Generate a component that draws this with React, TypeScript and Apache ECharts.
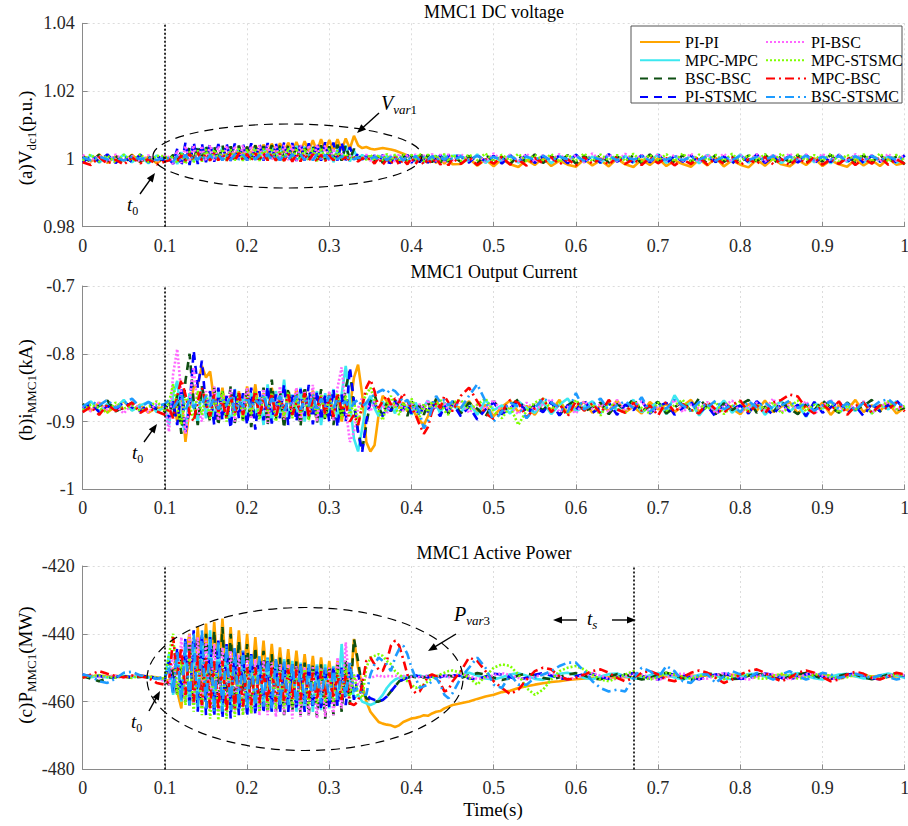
import React, { useEffect, useRef } from "react";
import * as echarts from "echarts";

// ---------------- time axis (s) ----------------
const time = [
  0, 0.01, 0.02, 0.03, 0.04, 0.05, 0.06, 0.07, 0.08, 0.09, 0.1,
  0.105, 0.11, 0.115, 0.12, 0.125, 0.13, 0.135, 0.14, 0.145, 0.15,
  0.155, 0.16, 0.165, 0.17, 0.175, 0.18, 0.185, 0.19, 0.195, 0.2,
  0.205, 0.21, 0.215, 0.22, 0.225, 0.23, 0.235, 0.24, 0.245, 0.25,
  0.255, 0.26, 0.265, 0.27, 0.275, 0.28, 0.285, 0.29, 0.295, 0.3,
  0.305, 0.31, 0.315, 0.32, 0.325, 0.33, 0.335, 0.34, 0.345, 0.35,
  0.355, 0.36, 0.365, 0.37, 0.375, 0.38, 0.385, 0.39, 0.395, 0.4,
  0.405, 0.41, 0.415, 0.42, 0.425, 0.43, 0.435, 0.44, 0.445, 0.45,
  0.46, 0.47, 0.48, 0.49, 0.5, 0.51, 0.52, 0.53, 0.54, 0.55,
  0.56, 0.57, 0.58, 0.59, 0.6, 0.61, 0.62, 0.63, 0.64, 0.65,
  0.66, 0.67, 0.68, 0.69, 0.7, 0.71, 0.72, 0.73, 0.74, 0.75,
  0.76, 0.77, 0.78, 0.79, 0.8, 0.81, 0.82, 0.83, 0.84, 0.85,
  0.86, 0.87, 0.88, 0.89, 0.9, 0.91, 0.92, 0.93, 0.94, 0.95,
  0.96, 0.97, 0.98, 0.99, 1.0,
];

const seriesNames = ["PI-PI", "MPC-MPC", "BSC-BSC", "PI-STSMC", "PI-BSC", "MPC-STSMC", "MPC-BSC", "BSC-STSMC"];
const legendCol1 = ["PI-PI", "MPC-MPC", "BSC-BSC", "PI-STSMC"];
const legendCol2 = ["PI-BSC", "MPC-STSMC", "MPC-BSC", "BSC-STSMC"];
const xTicks = [0, 0.1, 0.2, 0.3, 0.4, 0.5, 0.6, 0.7, 0.8, 0.9, 1];

// ---------------- (a) MMC1 DC voltage (p.u.) ----------------
const vdcPIPI = [
  1.0010, 0.9992, 1.0013, 0.9988, 1.0008, 0.9994, 1.0012, 0.9990, 1.0006, 0.9987, 1.0004,
  1.0000, 1.0008, 0.9996, 1.0015, 0.9992, 1.0018, 0.9995, 1.0022, 1.0000, 1.0025,
  1.0003, 1.0028, 1.0005, 1.0030, 1.0008, 1.0032, 1.0010, 1.0034, 1.0012, 1.0035,
  1.0013, 1.0040, 1.0015, 1.0042, 1.0016, 1.0045, 1.0018, 1.0046, 1.0018, 1.0048,
  1.0020, 1.0050, 1.0020, 1.0052, 1.0022, 1.0055, 1.0022, 1.0058, 1.0024, 1.0056,
  1.0024, 1.0058, 1.0026, 1.0060, 1.0030, 1.0068, 1.0040, 1.0032, 1.0035, 1.0030,
  1.0028, 1.0030, 1.0032, 1.0030, 1.0028, 1.0025, 1.0020, 1.0015, 1.0010, 1.0006,
  1.0002, 0.9994, 1.0004, 0.9990, 1.0002, 0.9988, 1.0001, 0.9986, 0.9999, 0.9984,
  0.9985, 1.0002, 0.9980, 0.9998, 0.9978, 1.0000, 0.9984, 0.9976, 0.9997, 0.9982,
  1.0003, 0.9979, 0.9995, 0.9983, 0.9977, 0.9999, 0.9981, 0.9996, 0.9978, 1.0001,
  0.9984, 0.9976, 0.9998, 0.9982, 1.0002, 0.9979, 0.9995, 0.9985, 0.9977, 0.9999,
  0.9981, 1.0003, 0.9978, 0.9996, 0.9983, 0.9975, 0.9998, 0.9980, 1.0001, 0.9984,
  0.9978, 0.9997, 0.9982, 1.0002, 0.9979, 0.9996, 0.9984, 0.9977, 0.9999, 0.9981,
  0.9996, 0.9979, 1.0001, 0.9983, 0.9988,
];
const vdcMPCMPC = [
  0.9992, 1.0011, 0.9989, 1.0009, 0.9993, 1.0013, 0.9990, 1.0008, 0.9987, 1.0010, 0.9995,
  0.9995, 1.0010, 0.9985, 1.0020, 0.9990, 1.0030, 0.9992, 1.0032, 0.9995, 1.0035,
  0.9996, 1.0030, 0.9998, 1.0034, 0.9997, 1.0030, 0.9999, 1.0033, 0.9998, 1.0031,
  1.0000, 1.0034, 0.9999, 1.0036, 1.0000, 1.0035, 0.9999, 1.0037, 1.0001, 1.0036,
  1.0000, 1.0038, 1.0001, 1.0036, 0.9999, 1.0035, 1.0000, 1.0034, 0.9998, 1.0036,
  0.9990, 1.0030, 0.9995, 1.0040, 0.9992, 1.0025, 0.9998, 1.0012, 1.0000, 1.0008,
  0.9995, 1.0010, 0.9993, 1.0009, 0.9992, 1.0011, 0.9991, 1.0009, 0.9990, 1.0012,
  0.9991, 1.0008, 0.9989, 1.0011, 0.9992, 1.0010, 0.9988, 1.0012, 0.9990, 1.0009,
  1.0010, 0.9990, 1.0013, 0.9988, 1.0008, 0.9992, 1.0012, 0.9989, 1.0006, 0.9991,
  1.0011, 0.9987, 1.0009, 0.9993, 1.0013, 0.9990, 1.0007, 0.9988, 1.0012, 0.9992,
  1.0009, 0.9989, 1.0011, 0.9991, 1.0014, 0.9988, 1.0008, 0.9993, 1.0010, 0.9987,
  1.0012, 0.9990, 1.0007, 0.9992, 1.0013, 0.9989, 1.0009, 0.9991, 1.0011, 0.9988,
  1.0008, 0.9993, 1.0012, 0.9990, 1.0010, 0.9987, 1.0013, 0.9991, 1.0009, 0.9989,
  1.0011, 0.9992, 1.0008, 0.9988, 1.0010,
];
const vdcBSCBSC = [
  1.0008, 0.9990, 1.0012, 0.9993, 1.0009, 0.9988, 1.0011, 0.9992, 1.0007, 0.9989, 1.0006,
  0.9998, 1.0012, 0.9990, 1.0025, 0.9993, 1.0035, 0.9995, 1.0040, 0.9996, 1.0038,
  0.9997, 1.0036, 0.9998, 1.0040, 0.9996, 1.0037, 0.9998, 1.0039, 0.9997, 1.0036,
  0.9999, 1.0040, 0.9997, 1.0038, 0.9998, 1.0041, 0.9997, 1.0039, 0.9999, 1.0040,
  0.9998, 1.0038, 0.9997, 1.0041, 0.9998, 1.0039, 0.9996, 1.0040, 0.9998, 1.0037,
  0.9997, 1.0042, 0.9995, 1.0040, 0.9998, 1.0030, 0.9999, 1.0015, 1.0000, 1.0008,
  0.9992, 1.0009, 0.9988, 1.0011, 0.9991, 1.0008, 0.9989, 1.0012, 0.9990, 1.0007,
  0.9993, 1.0010, 0.9987, 1.0012, 0.9990, 1.0008, 0.9989, 1.0011, 0.9992, 1.0009,
  0.9991, 1.0009, 0.9987, 1.0012, 0.9993, 1.0006, 0.9985, 1.0010, 0.9990, 1.0013,
  0.9988, 1.0008, 0.9992, 1.0011, 0.9986, 1.0009, 0.9991, 1.0012, 0.9989, 1.0007,
  0.9993, 1.0010, 0.9987, 1.0013, 0.9990, 1.0008, 0.9988, 1.0011, 0.9992, 1.0009,
  0.9986, 1.0012, 0.9991, 1.0007, 0.9989, 1.0010, 0.9993, 1.0013, 0.9987, 1.0008,
  0.9990, 1.0011, 0.9988, 1.0009, 0.9992, 1.0012, 0.9986, 1.0007, 0.9991, 1.0010,
  0.9989, 1.0013, 0.9987, 1.0008, 0.9984,
];
const vdcPISTSMC = [
  0.9989, 1.0010, 0.9992, 1.0013, 0.9988, 1.0008, 0.9991, 1.0012, 0.9990, 1.0009, 0.9993,
  1.0000, 0.9985, 1.0030, 0.9978, 1.0048, 0.9982, 1.0050, 0.9985, 1.0045, 0.9990,
  1.0046, 0.9992, 1.0044, 0.9993, 1.0046, 0.9994, 1.0045, 0.9995, 1.0044, 0.9995,
  1.0046, 0.9996, 1.0045, 0.9995, 1.0047, 0.9996, 1.0046, 0.9995, 1.0048, 0.9996,
  1.0047, 0.9994, 1.0048, 0.9995, 1.0046, 0.9996, 1.0047, 0.9995, 1.0049, 0.9994,
  1.0048, 0.9995, 1.0050, 0.9996, 1.0035, 1.0000, 1.0015, 0.9998, 1.0008, 1.0001,
  1.0010, 0.9990, 1.0012, 0.9991, 0.9988, 1.0011, 0.9990, 0.9989, 1.0012, 0.9988,
  1.0009, 0.9990, 1.0011, 0.9988, 1.0010, 0.9989, 1.0012, 0.9988, 1.0009, 1.0011,
  1.0007, 0.9989, 1.0012, 0.9992, 1.0009, 0.9986, 1.0011, 0.9990, 1.0013, 0.9988,
  1.0008, 0.9993, 1.0010, 0.9987, 1.0012, 0.9991, 1.0009, 0.9989, 1.0014, 0.9992,
  1.0007, 0.9988, 1.0011, 0.9990, 1.0013, 0.9987, 1.0009, 0.9992, 1.0010, 0.9989,
  1.0012, 0.9991, 1.0008, 0.9986, 1.0011, 0.9990, 1.0013, 0.9988, 1.0009, 0.9992,
  1.0010, 0.9989, 1.0012, 0.9987, 1.0008, 0.9991, 1.0011, 0.9990, 1.0013, 0.9988,
  1.0009, 0.9992, 1.0010, 0.9989, 1.0011,
];
const vdcPIBSC = [
  1.0012, 0.9994, 1.0009, 0.9991, 1.0013, 0.9995, 1.0008, 0.9992, 1.0011, 0.9993, 1.0010,
  1.0005, 0.9985, 1.0025, 0.9988, 1.0038, 0.9992, 1.0040, 0.9994, 1.0038, 0.9995,
  1.0040, 0.9996, 1.0037, 0.9995, 1.0039, 0.9997, 1.0038, 0.9996, 1.0040, 0.9997,
  1.0038, 0.9996, 1.0041, 0.9997, 1.0039, 0.9996, 1.0040, 0.9997, 1.0041, 0.9996,
  1.0039, 0.9995, 1.0041, 0.9996, 1.0040, 0.9997, 1.0042, 0.9996, 1.0040, 0.9995,
  1.0030, 0.9998, 1.0015, 0.9999, 1.0008, 1.0001, 1.0004, 0.9999, 1.0013, 0.9994,
  1.0012, 0.9993, 1.0014, 0.9995, 1.0011, 0.9992, 1.0015, 0.9994, 1.0012, 0.9993,
  1.0014, 0.9995, 1.0011, 0.9992, 1.0015, 0.9994, 1.0013, 0.9992, 1.0014, 0.9995,
  1.0014, 0.9995, 1.0010, 0.9992, 1.0016, 0.9996, 1.0012, 0.9993, 1.0015, 0.9991,
  1.0011, 0.9996, 1.0014, 0.9994, 1.0012, 0.9990, 1.0016, 0.9995, 1.0013, 0.9993,
  1.0015, 0.9996, 1.0011, 0.9992, 1.0014, 0.9995, 1.0012, 0.9994, 1.0016, 0.9991,
  1.0013, 0.9996, 1.0015, 0.9993, 1.0011, 0.9995, 1.0014, 0.9992, 1.0012, 0.9996,
  1.0016, 0.9994, 1.0013, 0.9991, 1.0015, 0.9995, 1.0012, 0.9993, 1.0014, 0.9996,
  1.0011, 0.9992, 1.0015, 0.9994, 1.0012,
];
const vdcMPCSTSMC = [
  0.9995, 1.0013, 0.9992, 1.0010, 0.9990, 1.0012, 0.9994, 1.0014, 0.9991, 1.0009, 1.0008,
  0.9998, 1.0008, 0.9988, 1.0015, 0.9985, 1.0022, 0.9990, 1.0025, 0.9992, 1.0028,
  0.9993, 1.0027, 0.9994, 1.0029, 0.9993, 1.0028, 0.9995, 1.0030, 0.9994, 1.0029,
  0.9995, 1.0031, 0.9994, 1.0030, 0.9995, 1.0031, 0.9994, 1.0030, 0.9993, 1.0032,
  0.9994, 1.0031, 0.9992, 1.0030, 0.9994, 1.0031, 0.9993, 1.0032, 0.9994, 1.0030,
  0.9995, 1.0025, 0.9997, 1.0015, 0.9999, 1.0008, 1.0000, 1.0004, 0.9998, 1.0013,
  0.9994, 1.0012, 0.9995, 1.0015, 0.9993, 1.0013, 0.9996, 1.0014, 0.9992, 1.0012,
  0.9995, 1.0016, 0.9993, 1.0013, 0.9996, 1.0011, 0.9994, 1.0015, 0.9992, 1.0012,
  0.9994, 1.0013, 0.9996, 1.0016, 0.9992, 1.0012, 0.9995, 1.0015, 0.9993, 1.0011,
  0.9996, 1.0014, 0.9991, 1.0012, 0.9995, 1.0016, 0.9993, 1.0013, 0.9996, 1.0011,
  0.9994, 1.0015, 0.9992, 1.0012, 0.9995, 1.0014, 0.9993, 1.0016, 0.9991, 1.0013,
  0.9996, 1.0011, 0.9994, 1.0015, 0.9992, 1.0012, 0.9995, 1.0014, 0.9993, 1.0016,
  0.9991, 1.0013, 0.9996, 1.0011, 0.9994, 1.0015, 0.9992, 1.0012, 0.9995, 1.0014,
  0.9993, 1.0016, 0.9991, 1.0012, 0.9995,
];
const vdcMPCBSC = [
  0.9990, 0.9982, 1.0005, 0.9986, 0.9998, 0.9983, 1.0004, 0.9987, 0.9999, 0.9984, 0.9992,
  0.9996, 1.0005, 0.9992, 1.0010, 0.9994, 1.0015, 0.9995, 1.0018, 0.9996, 1.0016,
  0.9995, 1.0017, 0.9996, 1.0015, 0.9995, 1.0016, 0.9994, 1.0018, 0.9996, 1.0015,
  0.9995, 1.0017, 0.9994, 1.0016, 0.9996, 1.0018, 0.9995, 1.0016, 0.9994, 1.0017,
  0.9992, 1.0015, 0.9993, 1.0016, 0.9995, 1.0014, 0.9990, 1.0012, 0.9994, 1.0010,
  0.9996, 1.0008, 0.9997, 1.0005, 0.9996, 1.0004, 0.9992, 1.0002, 0.9997, 1.0001,
  0.9986, 1.0004, 0.9983, 0.9999, 0.9986, 1.0005, 0.9982, 0.9998, 0.9984, 1.0003,
  0.9985, 1.0004, 0.9982, 0.9999, 0.9986, 1.0005, 0.9983, 0.9998, 0.9981, 1.0002,
  0.9985, 1.0004, 0.9982, 0.9999, 0.9986, 1.0006, 0.9983, 0.9998, 0.9980, 1.0003,
  0.9987, 1.0005, 0.9984, 0.9999, 0.9981, 1.0004, 0.9986, 1.0001, 0.9983, 1.0006,
  0.9985, 0.9999, 0.9982, 1.0004, 0.9987, 1.0002, 0.9981, 0.9998, 0.9985, 1.0005,
  0.9983, 1.0001, 0.9986, 1.0004, 0.9982, 0.9999, 0.9985, 1.0006, 0.9984, 1.0000,
  0.9981, 1.0003, 0.9986, 1.0005, 0.9983, 0.9999, 0.9985, 1.0004, 0.9982, 1.0001,
  0.9986, 1.0005, 0.9983, 0.9999, 0.9985,
];
const vdcBSCSTSMC = [
  1.0004, 0.9996, 1.0007, 0.9998, 1.0005, 0.9995, 1.0006, 0.9999, 1.0004, 0.9997, 1.0003,
  1.0002, 0.9992, 1.0010, 0.9994, 1.0012, 0.9996, 1.0010, 0.9997, 1.0012, 0.9996,
  1.0011, 0.9997, 1.0013, 0.9996, 1.0012, 0.9997, 1.0014, 0.9998, 1.0012, 0.9997,
  1.0013, 0.9998, 1.0012, 0.9997, 1.0014, 0.9998, 1.0013, 0.9996, 1.0012, 0.9997,
  1.0014, 0.9998, 1.0013, 0.9997, 1.0012, 0.9996, 1.0013, 0.9998, 1.0012, 0.9997,
  1.0010, 0.9999, 1.0008, 1.0000, 1.0005, 0.9999, 1.0004, 1.0001, 1.0003, 1.0000,
  1.0007, 0.9997, 1.0009, 0.9996, 1.0006, 0.9998, 1.0008, 0.9995, 1.0007, 0.9997,
  1.0009, 0.9996, 1.0006, 0.9998, 1.0008, 0.9995, 1.0007, 0.9997, 1.0009, 0.9996,
  1.0007, 0.9997, 1.0009, 0.9996, 1.0006, 0.9998, 1.0008, 0.9995, 1.0007, 0.9997,
  1.0009, 0.9996, 1.0006, 0.9999, 1.0008, 0.9995, 1.0007, 0.9997, 1.0009, 0.9996,
  1.0006, 0.9998, 1.0008, 0.9995, 1.0007, 0.9997, 1.0009, 0.9996, 1.0006, 0.9998,
  1.0008, 0.9995, 1.0007, 0.9997, 1.0009, 0.9996, 1.0006, 0.9998, 1.0008, 0.9995,
  1.0007, 0.9997, 1.0009, 0.9996, 1.0006, 0.9998, 1.0008, 0.9995, 1.0007, 0.9997,
  1.0009, 0.9996, 1.0006, 0.9998, 1.0007,
];

// ---------------- (b) MMC1 output current (kA) ----------------
const iPIPI = [
  -0.876, -0.884, -0.872, -0.886, -0.878, -0.870, -0.883, -0.875, -0.887, -0.879, -0.882,
  -0.885, -0.868, -0.900, -0.860, -0.930, -0.880, -0.850, -0.845, -0.818, -0.835,
  -0.826, -0.870, -0.890, -0.850, -0.895, -0.862, -0.888, -0.855, -0.893, -0.848,
  -0.885, -0.845, -0.892, -0.858, -0.900, -0.850, -0.887, -0.860, -0.897, -0.856,
  -0.888, -0.852, -0.895, -0.860, -0.890, -0.854, -0.898, -0.862, -0.887, -0.858,
  -0.893, -0.860, -0.900, -0.870, -0.880, -0.835, -0.816, -0.860, -0.930, -0.944,
  -0.935, -0.890, -0.862, -0.870, -0.885, -0.875, -0.880, -0.872, -0.885, -0.878,
  -0.890, -0.898, -0.905, -0.892, -0.875, -0.868, -0.880, -0.872, -0.885, -0.876,
  -0.880, -0.870, -0.888, -0.875, -0.892, -0.878, -0.869, -0.886, -0.877, -0.890,
  -0.872, -0.884, -0.868, -0.888, -0.879, -0.871, -0.887, -0.876, -0.884, -0.869,
  -0.886, -0.878, -0.888, -0.871, -0.882, -0.874, -0.886, -0.877, -0.868, -0.885,
  -0.875, -0.887, -0.870, -0.881, -0.889, -0.874, -0.884, -0.869, -0.886, -0.878,
  -0.871, -0.888, -0.877, -0.884, -0.872, -0.890, -0.876, -0.883, -0.868, -0.886,
  -0.876, -0.884, -0.872, -0.888, -0.879,
];
const iMPCMPC = [
  -0.882, -0.870, -0.885, -0.874, -0.880, -0.868, -0.884, -0.876, -0.871, -0.886, -0.878,
  -0.905, -0.860, -0.840, -0.900, -0.915, -0.858, -0.875, -0.902, -0.850, -0.895,
  -0.862, -0.898, -0.855, -0.892, -0.870, -0.905, -0.852, -0.893, -0.862, -0.900,
  -0.858, -0.895, -0.864, -0.905, -0.845, -0.900, -0.855, -0.890, -0.838, -0.897,
  -0.860, -0.893, -0.850, -0.900, -0.862, -0.888, -0.855, -0.905, -0.858, -0.890,
  -0.852, -0.898, -0.860, -0.818, -0.870, -0.925, -0.944, -0.910, -0.875, -0.862,
  -0.880, -0.892, -0.870, -0.885, -0.875, -0.888, -0.868, -0.884, -0.877, -0.890,
  -0.872, -0.886, -0.878, -0.869, -0.884, -0.875, -0.888, -0.872, -0.882, -0.876,
  -0.886, -0.872, -0.890, -0.868, -0.883, -0.876, -0.888, -0.870, -0.880, -0.887,
  -0.871, -0.889, -0.875, -0.866, -0.885, -0.878, -0.870, -0.888, -0.873, -0.883,
  -0.877, -0.868, -0.886, -0.879, -0.871, -0.889, -0.861, -0.880, -0.872, -0.891,
  -0.875, -0.883, -0.869, -0.887, -0.876, -0.881, -0.872, -0.890, -0.878, -0.870,
  -0.885, -0.875, -0.893, -0.872, -0.881, -0.869, -0.887, -0.877, -0.884, -0.871,
  -0.888, -0.875, -0.882, -0.870, -0.880,
];
const iBSCBSC = [
  -0.874, -0.882, -0.877, -0.869, -0.885, -0.879, -0.872, -0.884, -0.876, -0.881, -0.885,
  -0.870, -0.892, -0.860, -0.918, -0.840, -0.800, -0.870, -0.905, -0.848, -0.875,
  -0.900, -0.850, -0.906, -0.855, -0.895, -0.848, -0.902, -0.858, -0.898, -0.852,
  -0.908, -0.860, -0.892, -0.850, -0.905, -0.838, -0.897, -0.855, -0.910, -0.850,
  -0.893, -0.858, -0.907, -0.848, -0.896, -0.860, -0.902, -0.852, -0.899, -0.858,
  -0.905, -0.862, -0.895, -0.850, -0.825, -0.875, -0.915, -0.942, -0.905, -0.870,
  -0.860, -0.880, -0.890, -0.872, -0.885, -0.868, -0.880, -0.874, -0.892, -0.870,
  -0.883, -0.876, -0.890, -0.872, -0.884, -0.866, -0.881, -0.875, -0.888, -0.870,
  -0.888, -0.872, -0.881, -0.893, -0.870, -0.885, -0.877, -0.867, -0.887, -0.875,
  -0.883, -0.871, -0.890, -0.876, -0.868, -0.885, -0.879, -0.872, -0.889, -0.874,
  -0.882, -0.866, -0.885, -0.877, -0.871, -0.888, -0.879, -0.870, -0.884, -0.865,
  -0.881, -0.889, -0.873, -0.883, -0.875, -0.868, -0.887, -0.878, -0.886, -0.871,
  -0.881, -0.889, -0.874, -0.883, -0.869, -0.879, -0.887, -0.872, -0.882, -0.877,
  -0.868, -0.885, -0.875, -0.883, -0.880,
];
const iPISTSMC = [
  -0.880, -0.873, -0.886, -0.877, -0.883, -0.871, -0.879, -0.885, -0.874, -0.882, -0.876,
  -0.895, -0.870, -0.905, -0.850, -0.915, -0.880, -0.795, -0.850, -0.810, -0.880,
  -0.855, -0.905, -0.850, -0.898, -0.862, -0.910, -0.853, -0.895, -0.858, -0.905,
  -0.850, -0.912, -0.855, -0.898, -0.848, -0.903, -0.860, -0.895, -0.845, -0.905,
  -0.858, -0.900, -0.852, -0.892, -0.846, -0.904, -0.855, -0.898, -0.860, -0.900,
  -0.852, -0.908, -0.860, -0.900, -0.820, -0.870, -0.915, -0.945, -0.900, -0.868,
  -0.872, -0.885, -0.892, -0.878, -0.884, -0.870, -0.886, -0.880, -0.874, -0.888,
  -0.880, -0.892, -0.875, -0.886, -0.870, -0.884, -0.892, -0.876, -0.888, -0.873,
  -0.892, -0.878, -0.897, -0.882, -0.872, -0.889, -0.880, -0.870, -0.888, -0.878,
  -0.886, -0.871, -0.891, -0.876, -0.883, -0.868, -0.887, -0.879, -0.872, -0.890,
  -0.875, -0.883, -0.869, -0.888, -0.878, -0.872, -0.890, -0.880, -0.871, -0.887,
  -0.877, -0.893, -0.872, -0.883, -0.876, -0.888, -0.870, -0.880, -0.890, -0.874,
  -0.885, -0.875, -0.892, -0.871, -0.887, -0.879, -0.870, -0.888, -0.877, -0.892,
  -0.873, -0.885, -0.876, -0.869, -0.882,
];
const iPIBSC = [
  -0.877, -0.885, -0.871, -0.883, -0.876, -0.888, -0.874, -0.880, -0.886, -0.873, -0.880,
  -0.915, -0.830, -0.793, -0.860, -0.918, -0.870, -0.820, -0.880, -0.900, -0.855,
  -0.890, -0.848, -0.898, -0.860, -0.887, -0.852, -0.900, -0.862, -0.885, -0.850,
  -0.896, -0.860, -0.890, -0.852, -0.902, -0.858, -0.888, -0.848, -0.897, -0.862,
  -0.884, -0.850, -0.899, -0.855, -0.890, -0.846, -0.900, -0.860, -0.893, -0.855,
  -0.898, -0.850, -0.820, -0.880, -0.930, -0.915, -0.880, -0.865, -0.872, -0.885,
  -0.870, -0.883, -0.875, -0.888, -0.872, -0.880, -0.866, -0.884, -0.876, -0.870,
  -0.885, -0.874, -0.882, -0.868, -0.886, -0.876, -0.880, -0.872, -0.884, -0.877,
  -0.870, -0.887, -0.875, -0.881, -0.868, -0.886, -0.878, -0.889, -0.872, -0.883,
  -0.875, -0.867, -0.886, -0.878, -0.888, -0.870, -0.881, -0.874, -0.886, -0.868,
  -0.884, -0.875, -0.870, -0.887, -0.878, -0.882, -0.868, -0.886, -0.875, -0.881,
  -0.871, -0.888, -0.877, -0.869, -0.886, -0.879, -0.872, -0.883, -0.866, -0.887,
  -0.875, -0.881, -0.870, -0.889, -0.877, -0.868, -0.884, -0.874, -0.881, -0.870,
  -0.887, -0.878, -0.871, -0.883, -0.876,
];
const iMPCSTSMC = [
  -0.883, -0.875, -0.880, -0.887, -0.872, -0.881, -0.876, -0.884, -0.879, -0.870, -0.884,
  -0.872, -0.845, -0.880, -0.905, -0.862, -0.875, -0.898, -0.855, -0.890, -0.860,
  -0.896, -0.862, -0.888, -0.855, -0.900, -0.866, -0.892, -0.858, -0.898, -0.864,
  -0.890, -0.856, -0.897, -0.862, -0.886, -0.858, -0.900, -0.865, -0.892, -0.857,
  -0.895, -0.864, -0.887, -0.859, -0.898, -0.866, -0.890, -0.860, -0.895, -0.864,
  -0.888, -0.858, -0.896, -0.862, -0.892, -0.870, -0.905, -0.872, -0.860, -0.850,
  -0.868, -0.885, -0.898, -0.875, -0.862, -0.878, -0.890, -0.872, -0.884, -0.866,
  -0.880, -0.893, -0.874, -0.886, -0.870, -0.878, -0.866, -0.884, -0.890, -0.872,
  -0.868, -0.882, -0.875, -0.866, -0.885, -0.895, -0.878, -0.905, -0.884, -0.872,
  -0.866, -0.882, -0.872, -0.888, -0.868, -0.884, -0.874, -0.891, -0.871, -0.881,
  -0.887, -0.870, -0.880, -0.888, -0.872, -0.884, -0.876, -0.868, -0.886, -0.875,
  -0.882, -0.871, -0.889, -0.877, -0.870, -0.886, -0.875, -0.881, -0.872, -0.888,
  -0.878, -0.869, -0.885, -0.875, -0.882, -0.871, -0.887, -0.876, -0.883, -0.872,
  -0.888, -0.878, -0.870, -0.882, -0.877,
];
const iMPCBSC = [
  -0.886, -0.878, -0.890, -0.875, -0.884, -0.880, -0.872, -0.887, -0.880, -0.885, -0.890,
  -0.880, -0.895, -0.862, -0.838, -0.860, -0.888, -0.900, -0.870, -0.850, -0.875,
  -0.892, -0.860, -0.885, -0.870, -0.895, -0.862, -0.888, -0.858, -0.890, -0.866,
  -0.880, -0.855, -0.892, -0.866, -0.885, -0.858, -0.894, -0.868, -0.880, -0.860,
  -0.890, -0.872, -0.884, -0.858, -0.892, -0.868, -0.880, -0.862, -0.888, -0.865,
  -0.893, -0.858, -0.884, -0.872, -0.900, -0.890, -0.905, -0.878, -0.850, -0.838,
  -0.855, -0.880, -0.870, -0.862, -0.875, -0.866, -0.872, -0.858, -0.870, -0.880,
  -0.890, -0.905, -0.918, -0.908, -0.885, -0.872, -0.880, -0.862, -0.872, -0.885,
  -0.862, -0.850, -0.870, -0.888, -0.896, -0.885, -0.868, -0.872, -0.894, -0.880,
  -0.866, -0.886, -0.874, -0.892, -0.870, -0.884, -0.873, -0.888, -0.868, -0.882,
  -0.887, -0.872, -0.884, -0.876, -0.891, -0.870, -0.886, -0.874, -0.883, -0.888,
  -0.871, -0.882, -0.887, -0.875, -0.869, -0.886, -0.876, -0.888, -0.872, -0.868,
  -0.860, -0.863, -0.880, -0.888, -0.875, -0.884, -0.870, -0.890, -0.877, -0.872,
  -0.887, -0.876, -0.882, -0.872, -0.885,
];
const iBSCSTSMC = [
  -0.878, -0.870, -0.876, -0.868, -0.880, -0.873, -0.866, -0.879, -0.871, -0.877, -0.874,
  -0.868, -0.880, -0.872, -0.858, -0.885, -0.865, -0.880, -0.870, -0.875, -0.862,
  -0.878, -0.865, -0.882, -0.868, -0.876, -0.862, -0.884, -0.870, -0.878, -0.864,
  -0.880, -0.868, -0.874, -0.860, -0.882, -0.866, -0.876, -0.862, -0.884, -0.870,
  -0.875, -0.862, -0.882, -0.868, -0.877, -0.860, -0.884, -0.866, -0.878, -0.862,
  -0.880, -0.866, -0.875, -0.870, -0.884, -0.872, -0.868, -0.878, -0.872, -0.865,
  -0.860, -0.856, -0.853, -0.858, -0.852, -0.855, -0.862, -0.872, -0.868, -0.880,
  -0.875, -0.888, -0.910, -0.900, -0.880, -0.862, -0.872, -0.868, -0.876, -0.870,
  -0.880, -0.862, -0.845, -0.870, -0.900, -0.885, -0.872, -0.878, -0.895, -0.880,
  -0.866, -0.872, -0.880, -0.886, -0.858, -0.882, -0.875, -0.866, -0.884, -0.876,
  -0.870, -0.880, -0.864, -0.885, -0.875, -0.881, -0.868, -0.876, -0.884, -0.871,
  -0.879, -0.869, -0.882, -0.875, -0.886, -0.870, -0.879, -0.872, -0.882, -0.876,
  -0.869, -0.880, -0.872, -0.884, -0.876, -0.870, -0.881, -0.873, -0.883, -0.872,
  -0.879, -0.870, -0.867, -0.877, -0.872,
];

// ---------------- (c) MMC1 active power (MW) ----------------
const pPIPI = [
  -452.8, -452.5, -452.3, -452.6, -452.4, -452.7, -452.5, -452.3, -452.6, -452.8, -453.5,
  -454.0, -450.0, -457.0, -462.0, -446.0, -440.0, -455.0, -438.0, -455.0, -437.0,
  -455.0, -436.5, -454.0, -435.5, -454.0, -438.0, -455.0, -439.0, -455.0, -440.0,
  -455.5, -441.0, -455.0, -442.0, -456.0, -443.0, -455.5, -444.0, -456.0, -444.5,
  -456.0, -445.0, -456.5, -446.0, -456.0, -446.5, -457.0, -447.0, -456.5, -448.0,
  -457.0, -448.0, -457.0, -448.5, -457.5, -441.5, -450.0, -455.0, -460.0, -463.0,
  -464.5, -466.0, -466.5, -466.8, -467.0, -467.5, -467.0, -466.0, -465.5, -465.0,
  -464.8, -464.5, -464.0, -464.2, -463.5, -463.0, -462.8, -462.0, -461.5, -461.0,
  -460.5, -460.0, -459.2, -458.5, -458.0, -457.2, -456.8, -456.0, -455.5, -455.0,
  -454.6, -454.2, -454.0, -453.6, -453.4, -453.2, -453.0, -453.0, -452.8, -452.9,
  -452.7, -452.8, -452.6, -452.7, -452.5, -452.6, -452.4, -452.5, -452.3, -452.5,
  -452.2, -452.4, -452.3, -452.1, -452.3, -452.2, -452.4, -452.2, -452.3, -452.1,
  -452.4, -452.2, -452.5, -452.3, -452.1, -452.4, -452.6, -452.3, -452.5, -452.2,
  -452.6, -452.4, -452.7, -452.5, -452.6,
];
const pMPCMPC = [
  -452.3, -452.8, -452.5, -452.9, -452.6, -452.4, -452.7, -452.5, -452.9, -453.0, -453.8,
  -446.0, -458.0, -447.0, -460.0, -444.0, -461.0, -442.0, -462.0, -441.0, -460.0,
  -439.0, -462.0, -443.0, -463.0, -444.0, -462.0, -445.0, -463.0, -446.0, -462.0,
  -446.0, -463.0, -447.0, -462.0, -447.0, -463.0, -448.0, -462.0, -447.5, -463.0,
  -448.0, -463.0, -448.5, -462.5, -449.0, -463.0, -449.0, -462.5, -449.0, -462.0,
  -449.5, -461.0, -443.0, -458.0, -452.0, -459.0, -458.0, -460.0, -460.5, -461.0,
  -460.5, -459.5, -458.0, -456.0, -454.5, -453.5, -453.0, -452.5, -452.8, -452.4,
  -452.6, -452.3, -452.7, -452.4, -452.6, -452.8, -452.5, -452.3, -452.6, -452.4,
  -452.0, -451.5, -452.3, -453.2, -453.5, -452.8, -452.0, -451.6, -452.4, -453.3,
  -453.6, -452.7, -451.8, -451.5, -452.2, -453.0, -453.4, -452.6, -451.9, -451.7,
  -452.5, -453.3, -453.0, -452.2, -451.6, -452.0, -452.9, -453.5, -452.8, -452.1,
  -451.7, -452.3, -453.2, -453.4, -452.6, -451.9, -451.8, -452.6, -453.3, -452.9,
  -452.1, -451.6, -452.4, -453.1, -453.5, -452.7, -452.0, -451.8, -452.5, -453.2,
  -453.0, -452.2, -451.7, -452.3, -453.0,
];
const pBSCBSC = [
  -452.5, -453.2, -454.0, -453.0, -452.8, -452.6, -453.0, -452.7, -452.5, -453.1, -454.0,
  -455.0, -450.0, -458.0, -447.0, -460.0, -443.0, -461.0, -441.0, -462.0, -440.0,
  -461.0, -439.0, -462.0, -438.0, -462.0, -440.0, -463.0, -442.0, -462.0, -443.0,
  -463.0, -444.0, -462.0, -445.0, -463.5, -446.0, -463.0, -447.0, -464.0, -447.5,
  -463.0, -448.0, -464.0, -448.5, -464.0, -449.0, -464.5, -449.0, -465.0, -449.5,
  -464.0, -449.0, -463.0, -448.0, -461.0, -441.5, -448.0, -456.0, -459.0, -459.5,
  -460.0, -460.0, -459.5, -458.5, -457.0, -455.5, -454.0, -453.5, -453.0, -452.6,
  -452.8, -452.4, -452.9, -452.5, -452.2, -452.7, -452.4, -452.8, -452.3, -452.6,
  -453.0, -452.2, -451.6, -452.0, -452.9, -453.6, -453.1, -452.3, -451.7, -452.2,
  -453.0, -453.5, -452.8, -452.0, -451.6, -452.3, -453.2, -453.4, -452.6, -451.9,
  -452.0, -452.8, -453.5, -453.0, -452.1, -451.5, -452.2, -453.1, -453.6, -452.7,
  -451.9, -451.7, -452.5, -453.3, -453.2, -452.4, -451.8, -452.1, -453.0, -453.5,
  -452.6, -451.9, -451.6, -452.4, -453.2, -453.3, -452.5, -451.8, -452.0, -452.9,
  -453.4, -452.8, -452.0, -451.7, -452.1,
];
const pPISTSMC = [
  -452.0, -452.6, -452.4, -453.0, -452.7, -452.5, -452.8, -452.4, -452.6, -453.2, -453.5,
  -448.0, -457.0, -444.0, -459.0, -441.0, -462.0, -439.0, -463.0, -440.0, -464.0,
  -441.0, -464.5, -442.0, -465.0, -443.0, -465.0, -444.0, -464.0, -445.0, -464.5,
  -446.0, -464.0, -447.0, -463.5, -447.5, -463.0, -448.0, -463.5, -448.5, -463.0,
  -449.0, -462.5, -449.0, -463.0, -449.5, -462.0, -450.0, -462.5, -450.0, -462.0,
  -449.5, -461.5, -450.0, -461.0, -449.5, -459.5, -452.0, -457.0, -458.0, -459.0,
  -459.5, -460.0, -459.5, -458.5, -457.0, -455.5, -454.0, -453.5, -453.0, -452.5,
  -452.2, -452.7, -452.4, -452.9, -452.5, -452.3, -452.8, -452.4, -452.6, -452.2,
  -452.4, -453.2, -453.4, -452.6, -451.8, -452.0, -452.8, -453.5, -453.0, -452.1,
  -451.6, -452.3, -453.1, -453.4, -452.5, -451.9, -451.8, -452.7, -453.3, -452.9,
  -452.0, -451.6, -452.4, -453.2, -453.5, -452.6, -451.8, -452.1, -452.9, -453.4,
  -452.8, -452.0, -451.7, -452.5, -453.3, -453.1, -452.2, -451.7, -452.2, -453.0,
  -453.5, -452.7, -451.9, -451.8, -452.6, -453.3, -453.0, -452.1, -451.6, -452.3,
  -453.1, -453.4, -452.6, -451.9, -452.4,
];
const pPIBSC = [
  -452.6, -452.3, -452.8, -452.5, -452.4, -452.9, -452.6, -452.3, -452.7, -452.9, -454.0,
  -455.0, -446.0, -458.0, -441.0, -460.0, -440.0, -461.0, -441.0, -462.0, -442.0,
  -462.0, -443.0, -463.0, -444.0, -463.5, -445.0, -463.0, -446.0, -464.0, -447.0,
  -463.5, -447.5, -464.0, -448.0, -464.0, -448.5, -464.5, -449.0, -464.0, -449.0,
  -465.0, -449.5, -464.5, -450.0, -464.0, -449.5, -465.0, -450.0, -464.5, -450.0,
  -464.0, -447.0, -462.0, -442.5, -457.0, -452.0, -455.0, -453.5, -452.5, -453.0,
  -452.6, -452.2, -452.8, -452.4, -452.6, -452.3, -452.8, -452.5, -452.2, -452.7,
  -452.4, -452.9, -452.5, -452.3, -452.7, -452.4, -452.6, -452.2, -452.8, -452.5,
  -451.8, -452.5, -453.3, -453.1, -452.2, -451.6, -452.1, -453.0, -453.5, -452.7,
  -451.9, -451.7, -452.6, -453.4, -453.0, -452.1, -451.6, -452.3, -453.2, -453.4,
  -452.5, -451.8, -452.0, -452.9, -453.6, -452.9, -452.0, -451.7, -452.4, -453.3,
  -453.2, -452.3, -451.6, -452.1, -453.0, -453.5, -452.6, -451.8, -451.9, -452.8,
  -453.4, -452.9, -452.0, -451.6, -452.3, -453.2, -453.4, -452.5, -451.8, -452.1,
  -453.0, -453.3, -452.4, -451.8, -452.2,
];
const pMPCSTSMC = [
  -452.8, -452.5, -452.2, -452.7, -452.9, -452.6, -453.0, -452.4, -452.7, -453.0, -453.2,
  -446.0, -440.0, -458.0, -448.0, -461.0, -446.0, -463.0, -447.0, -464.0, -448.0,
  -465.0, -448.5, -465.5, -449.0, -465.0, -449.5, -464.5, -450.0, -464.0, -450.0,
  -463.5, -450.5, -463.0, -450.0, -462.5, -450.5, -462.0, -451.0, -462.0, -450.5,
  -461.5, -451.0, -461.0, -450.5, -461.0, -451.0, -460.5, -450.5, -460.0, -451.0,
  -460.0, -450.5, -459.5, -450.0, -459.0, -452.0, -458.0, -459.0, -450.0, -447.0,
  -446.5, -446.0, -446.5, -448.0, -449.0, -451.0, -452.0, -453.0, -454.0, -455.0,
  -456.0, -455.5, -455.0, -454.0, -453.0, -452.5, -452.0, -451.5, -451.0, -450.8,
  -451.5, -453.0, -455.0, -452.5, -450.0, -449.0, -449.5, -452.0, -456.0, -458.0,
  -456.5, -453.5, -451.0, -450.0, -449.5, -450.5, -452.0, -453.5, -454.0, -453.0,
  -452.0, -451.0, -452.5, -453.5, -452.8, -451.5, -452.0, -452.8, -453.2, -452.5,
  -452.0, -452.9, -453.4, -452.6, -451.8, -452.2, -453.1, -453.3, -452.4, -451.8,
  -452.3, -453.2, -453.0, -452.1, -451.7, -452.5, -453.3, -452.8, -452.0, -451.9,
  -452.7, -453.3, -452.6, -451.9, -452.3,
];
const pMPCBSC = [
  -453.0, -452.0, -451.0, -451.8, -452.5, -452.8, -452.3, -452.6, -453.0, -454.5, -455.0,
  -454.0, -441.0, -452.0, -444.0, -458.0, -445.0, -460.0, -446.0, -461.0, -447.0,
  -462.0, -448.0, -462.5, -448.0, -463.0, -449.0, -462.0, -449.5, -461.5, -450.0,
  -461.0, -450.0, -460.5, -450.5, -460.5, -450.0, -460.0, -451.0, -460.0, -450.5,
  -459.5, -450.5, -459.5, -451.0, -459.0, -451.5, -459.5, -451.0, -459.0, -451.5,
  -459.0, -452.0, -459.5, -452.0, -460.5, -461.0, -460.0, -455.0, -448.0, -447.0,
  -449.0, -450.5, -451.0, -448.0, -443.5, -442.0, -443.5, -447.5, -452.0, -456.0,
  -457.5, -457.0, -455.0, -452.5, -452.0, -452.5, -454.5, -457.0, -456.5, -454.0,
  -451.0, -447.0, -448.0, -451.0, -454.0, -456.0, -457.8, -456.5, -453.5, -451.0,
  -450.0, -450.5, -452.5, -453.5, -453.0, -452.0, -451.0, -450.5, -451.5, -453.0,
  -454.0, -453.0, -451.5, -451.0, -452.0, -453.5, -454.0, -452.8, -451.5, -450.8,
  -451.5, -453.0, -454.5, -453.5, -452.0, -451.0, -450.5, -451.5, -453.0, -454.0,
  -453.0, -451.5, -450.8, -451.5, -452.8, -454.0, -453.5, -452.0, -451.2, -451.8,
  -453.0, -453.5, -452.5, -451.5, -452.0,
];
const pBSCSTSMC = [
  -452.0, -452.5, -454.0, -454.5, -453.2, -451.5, -451.2, -452.3, -452.8, -453.3, -452.5,
  -450.0, -458.0, -445.0, -460.0, -442.0, -461.0, -440.0, -462.0, -439.0, -462.0,
  -441.0, -463.0, -442.0, -463.0, -443.5, -462.5, -444.0, -462.0, -445.0, -462.5,
  -446.0, -462.0, -446.5, -461.5, -447.0, -462.0, -447.5, -461.5, -448.0, -461.0,
  -448.5, -461.0, -449.0, -460.5, -449.0, -461.0, -449.5, -460.5, -450.0, -460.0,
  -450.0, -459.5, -450.5, -459.0, -448.0, -457.0, -456.0, -458.0, -458.0, -452.0,
  -449.0, -447.0, -448.0, -449.0, -451.0, -447.0, -444.5, -443.5, -446.0, -450.0,
  -453.0, -456.0, -455.5, -455.0, -454.0, -453.0, -455.0, -458.0, -459.0, -457.5,
  -453.0, -450.0, -447.0, -450.0, -455.0, -456.0, -452.0, -455.0, -455.0, -453.0,
  -452.0, -451.0, -449.5, -448.5, -448.5, -451.0, -454.0, -456.0, -457.0, -456.5,
  -457.0, -453.0, -450.0, -451.0, -453.0, -449.5, -451.0, -454.0, -454.5, -452.0,
  -452.0, -454.5, -452.5, -451.0, -452.0, -453.0, -451.5, -452.5, -453.5, -452.0,
  -451.0, -452.5, -453.5, -452.8, -451.5, -452.0, -453.0, -452.5, -451.8, -452.5,
  -453.0, -452.2, -452.8, -453.5, -453.0,
];

const panelValues = [
  [vdcPIPI, vdcMPCMPC, vdcBSCBSC, vdcPISTSMC, vdcPIBSC, vdcMPCSTSMC, vdcMPCBSC, vdcBSCSTSMC],
  [iPIPI, iMPCMPC, iBSCBSC, iPISTSMC, iPIBSC, iMPCSTSMC, iMPCBSC, iBSCSTSMC],
  [pPIPI, pMPCMPC, pBSCBSC, pPISTSMC, pPIBSC, pMPCSTSMC, pMPCBSC, pBSCSTSMC],
];
const faultTime = 0.1;
const settleTime = 0.674;

// ---------------- styling ----------------
const FAM = "Liberation Serif";
const seriesColors = ["#FFA500", "#3CE8F0", "#0E4F12", "#0000FF", "#FF66FF", "#7FFF00", "#FF0000", "#1E9BFF"];
const seriesDash: any[] = ["solid", "solid", [8, 6], [8, 6], [2, 2], [2, 2], [9, 4, 2, 4], [9, 4, 2, 4]];

const GRID_LEFT = 82.7;
const GRID_W = 822;
const gridTops = [23.3, 286, 566];
const GRID_H = 203.4;
const yRanges = [
  { min: 0.98, max: 1.04, interval: 0.02 },
  { min: -1, max: -0.7, interval: 0.1 },
  { min: -480, max: -420, interval: 20 },
];

function arrow(x1: number, y1: number, x2: number, y2: number) {
  const ang = Math.atan2(y2 - y1, x2 - x1);
  const L = 9, W = 3.6;
  const bx = x2 - L * Math.cos(ang), by = y2 - L * Math.sin(ang);
  const px = -Math.sin(ang) * W, py = Math.cos(ang) * W;
  return [
    { type: "line", z: 30, shape: { x1, y1, x2: bx + Math.cos(ang) * 2, y2: by + Math.sin(ang) * 2 }, style: { stroke: "#000", lineWidth: 1.4 } },
    { type: "polygon", z: 30, shape: { points: [[x2, y2], [bx + px, by + py], [bx - px, by - py]] }, style: { fill: "#000" } },
  ];
}

function subText(x: number, y: number, main: string, sub: string, opts: any = {}) {
  const rot = opts.rotation || 0;
  const ms = opts.mainSize || 19;
  const ss = opts.subSize || 13;
  const after = opts.after || "";
  const subTail = opts.subTail || "";
  let text = `{m|${main}}{s|${sub}}`;
  if (subTail) text += `{n|${subTail}}`;
  if (after) text += `{m|${after}}`;
  return {
    type: "text",
    z: 30,
    x,
    y,
    rotation: rot,
    style: {
      text,
      align: opts.align || "left",
      verticalAlign: "middle",
      rich: {
        m: { fontFamily: FAM, fontSize: ms, fontStyle: opts.mainItalic ? "italic" : "normal", fill: "#000", lineHeight: 26, verticalAlign: "middle" },
        s: { fontFamily: FAM, fontSize: ss, fontStyle: opts.subItalic ? "italic" : "normal", fill: "#000", lineHeight: 26, verticalAlign: "bottom" },
        n: { fontFamily: FAM, fontSize: ss, fill: "#000", lineHeight: 26, verticalAlign: "bottom" },
      },
    },
  };
}

function plainText(text: string, x: number, y: number, size: number) {
  return {
    type: "text",
    z: 30,
    x,
    y,
    style: { text, fontFamily: FAM, fontSize: size, fill: "#000", align: "center", verticalAlign: "middle" },
  };
}

function buildOption() {
  const grids = gridTops.map((top) => ({ left: GRID_LEFT, top, width: GRID_W, height: GRID_H, outerBoundsMode: "none" }));
  const axisLine = { show: true, lineStyle: { color: "#8a8a8a", width: 1 } };
  const axisTick = { show: true, inside: true, length: 5, lineStyle: { color: "#8a8a8a", width: 1 } };
  const splitLine = { show: true, lineStyle: { color: "#dcdcdc", width: 1, type: [2, 3] } };
  const richLabel = { f: { fontFamily: FAM, fontSize: 18, color: "#262626" } };
  const xLabel = { fontFamily: FAM, fontSize: 18, color: "#262626", margin: 10, formatter: (v: number) => `{f|${v}}`, rich: richLabel };
  const yLabel = { fontFamily: FAM, fontSize: 18, color: "#262626", margin: 8, formatter: (v: number) => `{f|${v}}`, rich: richLabel };
  const xAxis = gridTops.map((_, i) => ({
    type: "value",
    gridIndex: i,
    min: xTicks[0],
    max: xTicks[xTicks.length - 1],
    interval: 0.1,
    axisLine,
    axisTick,
    splitLine,
    axisLabel: xLabel,
  }));
  const yAxis = yRanges.map((r, i) => ({
    type: "value",
    gridIndex: i,
    min: r.min,
    max: r.max,
    interval: r.interval,
    axisLine,
    axisTick,
    splitLine,
    axisLabel: yLabel,
  }));

  const series: any[] = [];
  panelValues.forEach((group, p) => {
    group.forEach((vals, s) => {
      const n = Math.min(time.length, vals.length);
      const data: number[][] = [];
      for (let k = 0; k < n; k++) data.push([time[k], vals[k]]);
      const item: any = {
        type: "line",
        name: seriesNames[s],
        xAxisIndex: p,
        yAxisIndex: p,
        data,
        symbol: "none",
        showSymbol: false,
        animation: false,
        lineStyle: { color: seriesColors[s], width: 2.6, type: seriesDash[s] },
        itemStyle: { color: seriesColors[s] },
        emphasis: { disabled: true },
      };
      if (s === group.length - 1) {
        const lines: any[] = [{ xAxis: faultTime }];
        if (p === 2) lines.push({ xAxis: settleTime });
        item.markLine = {
          silent: true,
          symbol: "none",
          label: { show: false },
          lineStyle: { color: "#000", width: 1.6, type: [2, 2] },
          data: lines,
          animation: false,
        };
      }
      series.push(item);
    });
  });

  const legendBase = {
    orient: "vertical",
    itemWidth: 40,
    itemHeight: 12,
    itemGap: 2.3,
    selectedMode: false,
    itemStyle: { color: "rgba(0,0,0,0)", borderColor: "rgba(0,0,0,0)", borderWidth: 0, opacity: 0 },
    lineStyle: { width: 2 },
    formatter: (name: string) => `{f|${name}}`,
    textStyle: { fontFamily: FAM, fontSize: 16, color: "#000", rich: { f: { fontFamily: FAM, fontSize: 16, color: "#000" } } },
    z: 40,
  };

  const graphic: any[] = [
    { type: "rect", z: 35, shape: { x: 631, y: 26, width: 271, height: 77 }, style: { fill: "#fff", stroke: "#555", lineWidth: 1 } },
    plainText("MMC1 DC voltage", 494, 12, 18),
    plainText("MMC1 Output Current", 494, 272, 18),
    plainText("MMC1 Active Power", 494, 553, 18),
    plainText("Time(s)", 493, 809, 19),
    subText(25, 138, "(a)V", "dc1", { rotation: Math.PI / 2, align: "center", after: "(p.u.)" }),
    subText(25, 390, "(b)i", "MMC1", { rotation: Math.PI / 2, align: "center", after: "(kA)" }),
    subText(25, 665, "(c)P", "MMC1", { rotation: Math.PI / 2, align: "center", after: "(MW)" }),
    // ellipses
    { type: "ellipse", z: 30, shape: { cx: 287.5, cy: 156, rx: 134.5, ry: 32 }, style: { fill: "none", stroke: "#000", lineWidth: 1.2, lineDash: [9, 6] } },
    { type: "ellipse", z: 30, shape: { cx: 305, cy: 679, rx: 158, ry: 71.5 }, style: { fill: "none", stroke: "#000", lineWidth: 1.2, lineDash: [9, 6] } },
    // t0 labels
    subText(127, 204, "t", "0", { mainItalic: true, mainSize: 19, subSize: 12 }),
    ...arrow(140, 194, 155, 173),
    subText(132, 452, "t", "0", { mainItalic: true, mainSize: 19, subSize: 12 }),
    ...arrow(144, 442, 157, 424),
    subText(131, 721, "t", "0", { mainItalic: true, mainSize: 19, subSize: 12 }),
    ...arrow(149, 711, 160, 691),
    // Vvar1
    subText(381, 103, "V", "var", { mainItalic: true, mainSize: 20, subSize: 13, subItalic: true, subTail: "1" }),
    ...arrow(379, 113, 357, 133),
    // Pvar3
    subText(454, 614, "P", "var", { mainItalic: true, mainSize: 20, subSize: 13, subItalic: true, subTail: "3" }),
    ...arrow(456, 634, 428, 651),
    // ts
    ...arrow(577, 620, 553, 620),
    subText(587, 618, "t", "s", { mainItalic: true, mainSize: 19, subSize: 13, subItalic: true }),
    ...arrow(612, 620, 636, 620),
  ];

  return {
    animation: false,
    backgroundColor: "#fff",
    textStyle: { fontFamily: FAM },
    grid: grids,
    xAxis,
    yAxis,
    legend: [
      { ...legendBase, data: legendCol1, left: 634, top: 29 },
      { ...legendBase, data: legendCol2, left: 760, top: 29 },
    ],
    series,
    graphic,
  };
}

export default function App() {
  const ref = useRef<HTMLDivElement | null>(null);
  useEffect(() => {
    if (!ref.current) return;
    const chart = echarts.init(ref.current, null, { renderer: "svg" });
    chart.setOption(buildOption() as any);
    return () => chart.dispose();
  }, []);
  return <div ref={ref} style={{ position: "fixed", left: 0, top: 0, width: 908, height: 826, background: "#fff" }} />;
}
